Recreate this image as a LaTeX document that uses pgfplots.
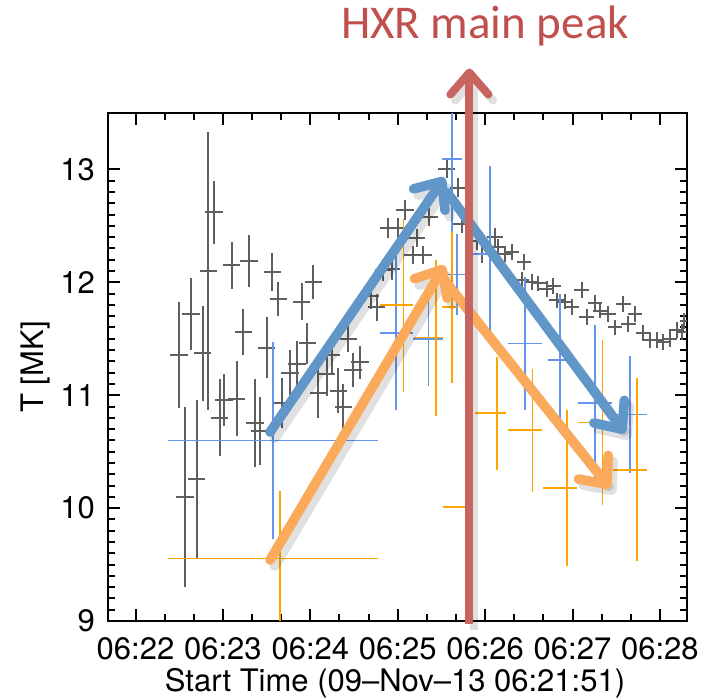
\documentclass[border=0pt]{standalone}
\usepackage{pgfplots}
\pgfplotsset{compat=1.18}
\usepackage{fontspec}
\setmainfont{TeX Gyre Heros}
\newfontfamily\titlefont{Carlito}
\usetikzlibrary{arrows.meta}
\definecolor{grayc}{RGB}{95,95,95}
\definecolor{bluec}{RGB}{100,149,237}
\definecolor{orangec}{RGB}{255,165,0}
\definecolor{arrblue}{RGB}{96,150,200}
\definecolor{arrorange}{RGB}{250,170,90}
\definecolor{arrred}{RGB}{200,100,95}
\definecolor{titlered}{RGB}{192,80,77}
\begin{document}
\begin{tikzpicture}[x=1pt,y=1pt]
\useasboundingbox (0,0) rectangle (350.5,349);
\begin{axis}[
  at={(54pt,38.5pt)}, anchor=south west,
  width=289.5pt, height=254pt, scale only axis,
  xmin=-0.315, xmax=6.31, ymin=9, ymax=13.5,
  xtick={0,1,2,3,4,5,6},
  xticklabels={06:22,06:23,06:24,06:25,06:26,06:27,06:28},
  minor x tick num=2,
  ytick={9,10,11,12,13}, minor y tick num=9,
  tick align=inside,
  major tick length=6pt, minor tick length=3.5pt,
  every tick/.style={line width=1pt, black},
  axis line style={line width=1pt},
  tick label style={font=\fontsize{15.5}{18}\selectfont},
  xticklabel style={yshift=-4.5pt},
  yticklabel style={xshift=-3pt},
  /pgf/number format/assume math mode=true,
  clip=false,
]
% gray data
\addplot[draw=none, mark=none, error bars/.cd, x dir=both, x explicit, y dir=both, y explicit, error mark=none, error bar style={line width=1pt, draw=grayc}] coordinates {
(0.498,11.36) +- (0.1,0.47)
(0.566,10.10) +- (0.1,0.80)
(0.632,11.72) +- (0.1,0.32)
(0.700,10.26) +- (0.1,0.70)
(0.769,11.37) +- (0.1,0.42)
(0.833,12.10) +- (0.1,1.23)
(0.898,12.62) +- (0.1,0.28)
(0.963,10.80) +- (0.1,0.34)
(1.013,10.96) +- (0.1,0.23)
(1.100,12.15) +- (0.1,0.21)
(1.158,10.97) +- (0.1,0.33)
(1.233,11.56) +- (0.1,0.20)
(1.300,12.19) +- (0.1,0.23)
(1.367,10.75) +- (0.1,0.39)
(1.425,10.68) +- (0.1,0.30)
(1.500,11.42) +- (0.1,0.27)
(1.565,12.09) +- (0.1,0.17)
(1.634,11.85) +- (0.1,0.15)
(1.673,10.93) +- (0.1,0.22)
(1.768,11.20) +- (0.1,0.20)
(1.845,11.28) +- (0.1,0.20)
(1.900,11.83) +- (0.1,0.16)
(1.966,11.46) +- (0.1,0.18)
(2.034,12.00) +- (0.1,0.15)
(2.092,11.02) +- (0.1,0.22)
(2.188,11.19) +- (0.1,0.20)
(2.245,11.36) +- (0.1,0.18)
(2.320,11.04) +- (0.1,0.20)
(2.378,10.90) +- (0.1,0.20)
(2.435,11.50) +- (0.1,0.12)
(2.490,11.22) +- (0.1,0.15)
(2.569,11.29) +- (0.1,0.15)
(2.691,11.88) +- (0.1,0.12)
(2.760,11.78) +- (0.1,0.12)
(2.835,12.11) +- (0.1,0.10)
(2.893,12.48) +- (0.1,0.09)
(2.930,12.12) +- (0.1,0.10)
(3.007,12.48) +- (0.1,0.09)
(3.084,12.64) +- (0.1,0.09)
(3.171,12.24) +- (0.1,0.08)
(3.217,12.39) +- (0.1,0.08)
(3.293,12.24) +- (0.1,0.08)
(3.361,12.58) +- (0.1,0.08)
(3.560,13.00) +- (0.1,0.08)
(3.693,12.84) +- (0.1,0.08)
(3.732,12.52) +- (0.1,0.08)
(3.904,12.37) +- (0.09,0.08)
(3.961,12.25) +- (0.09,0.08)
(4.113,12.40) +- (0.09,0.08)
(4.151,12.31) +- (0.085,0.07)
(4.228,12.25) +- (0.085,0.07)
(4.304,12.27) +- (0.085,0.07)
(4.419,12.02) +- (0.085,0.07)
(4.445,12.18) +- (0.085,0.07)
(4.533,12.00) +- (0.085,0.07)
(4.609,11.99) +- (0.085,0.07)
(4.705,11.94) +- (0.085,0.07)
(4.780,11.97) +- (0.085,0.07)
(4.819,11.84) +- (0.085,0.07)
(4.914,11.83) +- (0.085,0.07)
(4.991,11.78) +- (0.085,0.07)
(5.105,11.93) +- (0.085,0.07)
(5.162,11.69) +- (0.085,0.07)
(5.257,11.82) +- (0.085,0.07)
(5.314,11.75) +- (0.085,0.07)
(5.410,11.72) +- (0.085,0.07)
(5.486,11.60) +- (0.085,0.07)
(5.581,11.81) +- (0.085,0.07)
(5.638,11.63) +- (0.085,0.07)
(5.715,11.72) +- (0.085,0.07)
(5.810,11.55) +- (0.085,0.07)
(5.887,11.49) +- (0.085,0.07)
(5.963,11.49) +- (0.085,0.07)
(6.039,11.47) +- (0.085,0.07)
(6.116,11.50) +- (0.085,0.07)
(6.192,11.58) +- (0.085,0.07)
(6.250,11.56) +- (0.06,0.07)
(6.270,11.66) +- (0.04,0.07)
};
% blue data
\addplot[draw=none, mark=none, error bars/.cd, x dir=both, x explicit, y dir=both, y explicit, error mark=none, error bar style={line width=0.8pt, draw=bluec}] coordinates {
(1.570,10.60) += (1.21,0.87) -= (1.20,0.87)
(2.980,11.55) += (0.19,0.68) -= (0.18,0.68)
(3.350,11.50) += (0.17,0.42) -= (0.17,0.42)
(3.618,13.09) += (0.115,0.41) -= (0.115,1.34)
(3.675,12.07) += (0.105,0.36) -= (0.105,0.36)
(4.056,12.25) += (0.06,0.78) -= (0.19,0.78)
(4.456,11.46) += (0.19,0.59) -= (0.19,0.59)
(4.857,11.31) += (0.14,0.59) -= (0.14,0.59)
(5.257,10.93) += (0.20,0.69) -= (0.20,0.69)
(5.658,10.83) += (0.19,0.52) -= (0.19,0.52)
};
% orange data
\addplot[draw=none, mark=none, error bars/.cd, x dir=both, x explicit, y dir=both, y explicit, error mark=none, error bar style={line width=0.8pt, draw=orangec}] coordinates {
(1.653,9.555) += (1.125,0.60) -= (1.285,0.555)
(3.064,11.80) += (0.11,0.76) -= (0.27,0.77)
(3.438,11.51) += (0.08,0.69) -= (0.25,0.69)
(3.618,11.78) += (0.06,0.67) -= (0.11,0.67)
(3.780,10.01) += (0.0,1.03) -= (0.265,1.01)
(4.133,10.84) += (0.11,0.50) -= (0.25,0.50)
(4.540,10.69) += (0.11,0.545) -= (0.28,0.545)
(4.940,10.18) += (0.11,0.69) -= (0.28,0.69)
(5.345,10.76) += (0.12,0.73) -= (0.28,0.73)
(5.740,10.34) += (0.11,0.81) -= (0.28,0.81)
};
% arrow shadows
\begin{scope}[xshift=1.2pt, yshift=-1.5pt]
\addplot[black, opacity=0.12, line width=5pt, line cap=round, -{Straight Barb[length=11pt,width=19pt,round]}] coordinates {(1.539,10.673) (3.535,12.929)};
\addplot[black, opacity=0.12, line width=5pt, line cap=round, -{Straight Barb[length=11pt,width=19pt,round]}] coordinates {(3.564,12.796) (5.601,10.664)};
\addplot[black, opacity=0.12, line width=5pt, line cap=round, -{Straight Barb[length=11pt,width=19pt,round]}] coordinates {(1.539,9.540) (3.535,12.150)};
\addplot[black, opacity=0.12, line width=5pt, line cap=round, -{Straight Barb[length=11pt,width=19pt,round]}] coordinates {(3.535,12.018) (5.429,10.177)};
\addplot[black, opacity=0.12, line width=4pt, -{Straight Barb[length=11pt,width=19pt,round]}] coordinates {(3.82,8.97) (3.82,13.894)};
\end{scope}
% arrows
\addplot[arrblue, line width=4.8pt, line cap=round, -{Straight Barb[length=11pt,width=19pt,round]}] coordinates {(1.539,10.673) (3.535,12.929)};
\addplot[arrblue, line width=4.8pt, line cap=round, -{Straight Barb[length=11pt,width=19pt,round]}] coordinates {(3.564,12.796) (5.601,10.664)};
\addplot[arrorange, line width=4.8pt, line cap=round, -{Straight Barb[length=11pt,width=19pt,round]}] coordinates {(1.539,9.540) (3.535,12.150)};
\addplot[arrorange, line width=4.8pt, line cap=round, -{Straight Barb[length=11pt,width=19pt,round]}] coordinates {(3.535,12.018) (5.429,10.177)};
\addplot[arrred, line width=4pt, -{Straight Barb[length=11pt,width=19pt,round]}] coordinates {(3.82,8.97) (3.82,13.894)};
\end{axis}
\node[rotate=90, font=\fontsize{15.5}{18}\selectfont] at (17.5,165.5) {T [MK]};
\node[anchor=base, font=\fontsize{15.5}{18}\selectfont] at (197.5,3.5) {Start Time (09–Nov–13 06:21:51)};
\node[anchor=base, text=titlered, font=\titlefont\fontsize{23.5}{28}\selectfont] at (242.5,330) {HXR main peak};
\end{tikzpicture}
\end{document}
